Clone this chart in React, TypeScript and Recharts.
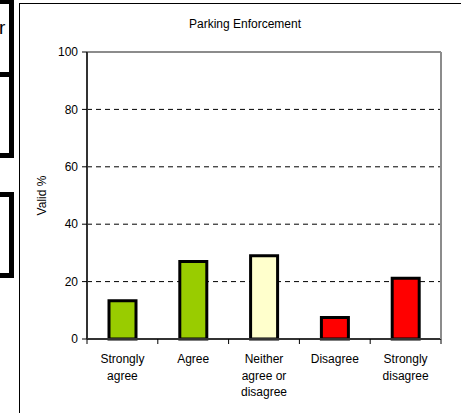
import { BarChart, Bar, XAxis, YAxis, CartesianGrid, Cell } from 'recharts';

const categories = ['Strongly\nagree', 'Agree', 'Neither\nagree or\ndisagree', 'Disagree', 'Strongly\ndisagree'];
const validPercent = [13.3, 27.0, 29.0, 7.5, 21.2];
const yTicks = [0, 20, 40, 60, 80, 100];

const barColors = ['#99CC00', '#99CC00', '#FFFFCC', '#FF0000', '#FF0000'];
const FONT = '"Liberation Sans", Arial, sans-serif';

const data = categories.map((name, i) => ({ name, value: validPercent[i] }));

// category label split over lines, with tick marks at the category edges
function CategoryTick(props: any) {
  const { x, y, payload, index } = props;
  const half = payload.offset || 35.4;
  const lines = String(payload.value).split('\n');
  return (
    <g>
      <line x1={x - half} y1={y} x2={x - half} y2={y + 5} stroke="#000" />
      {index === categories.length - 1 && (
        <line x1={x + half} y1={y} x2={x + half} y2={y + 5} stroke="#000" />
      )}
      <text textAnchor="middle" fontSize={12} fontFamily={FONT} fill="#000">
        {lines.map((l, i) => (
          <tspan key={i} x={x} y={y + 24 + i * 16.5}>
            {l}
          </tspan>
        ))}
      </text>
    </g>
  );
}

function BoxEdge({ top, height }: { top: number; height: number }) {
  return (
    <div
      style={{
        position: 'absolute',
        left: -30,
        top,
        width: 44,
        height,
        boxSizing: 'border-box',
        border: '5px solid #000',
      }}
    />
  );
}

export default function App() {
  return (
    <div
      style={{
        position: 'fixed',
        left: 0,
        top: 0,
        width: 461,
        height: 413,
        overflow: 'hidden',
        background: '#fff',
        fontFamily: FONT,
      }}
    >
      {/* bits of neighbouring page content */}
      <BoxEdge top={-1} height={78} />
      <BoxEdge top={72} height={86} />
      <BoxEdge top={192} height={86} />
      <div style={{ position: 'absolute', left: -1, top: 18, fontSize: 19, lineHeight: 1 }}>r</div>

      {/* chart frame */}
      <div
        style={{
          position: 'absolute',
          left: 19,
          top: 3,
          width: 500,
          height: 500,
          borderLeft: '1px solid #000',
          borderTop: '1px solid #000',
        }}
      />
      <div
        style={{
          position: 'absolute',
          left: 145,
          top: 17,
          width: 200,
          textAlign: 'center',
          fontSize: 12,
        }}
      >
        Parking Enforcement
      </div>

      <div style={{ position: 'absolute', left: 0, top: 0 }}>
        <BarChart
          width={461}
          height={413}
          data={data}
          margin={{ top: 51, right: 19, bottom: 14, left: 27 }}
          barSize={27}
        >
          <CartesianGrid vertical={false} stroke="#000" strokeDasharray="5 4" />
          <XAxis
            dataKey="name"
            height={60}
            tickLine={false}
            tickSize={0}
            tickMargin={0}
            interval={0}
            axisLine={{ stroke: '#333', strokeWidth: 2 }}
            tick={<CategoryTick />}
          />
          <XAxis
            xAxisId="top"
            dataKey="name"
            orientation="top"
            height={1}
            tick={false}
            tickLine={false}
            axisLine={{ stroke: '#8c8c8c', strokeWidth: 2 }}
          />
          <YAxis
            width={60}
            domain={[0, 100]}
            ticks={yTicks}
            tickSize={5}
            tickMargin={4}
            tickLine={{ stroke: '#000' }}
            axisLine={{ stroke: '#333', strokeWidth: 2 }}
            tick={{ fontSize: 12, fill: '#000', fontFamily: FONT }}
            label={{
              content: ({ viewBox }: any) => (
                <text
                  transform={`translate(${viewBox.x + 15}, ${viewBox.y + viewBox.height / 2}) rotate(-90)`}
                  textAnchor="middle"
                  dominantBaseline="central"
                  fontSize={12}
                  fontFamily={FONT}
                  fill="#000"
                >
                  Valid %
                </text>
              ),
            }}
          />
          <YAxis
            yAxisId="right"
            orientation="right"
            width={1}
            domain={[0, 100]}
            tick={false}
            tickLine={false}
            axisLine={{ stroke: '#8c8c8c', strokeWidth: 2 }}
          />
          <Bar dataKey="value" stroke="#000" strokeWidth={3} isAnimationActive={false}>
            {data.map((d, i) => (
              <Cell key={d.name} fill={barColors[i]} />
            ))}
          </Bar>
        </BarChart>
      </div>
    </div>
  );
}
